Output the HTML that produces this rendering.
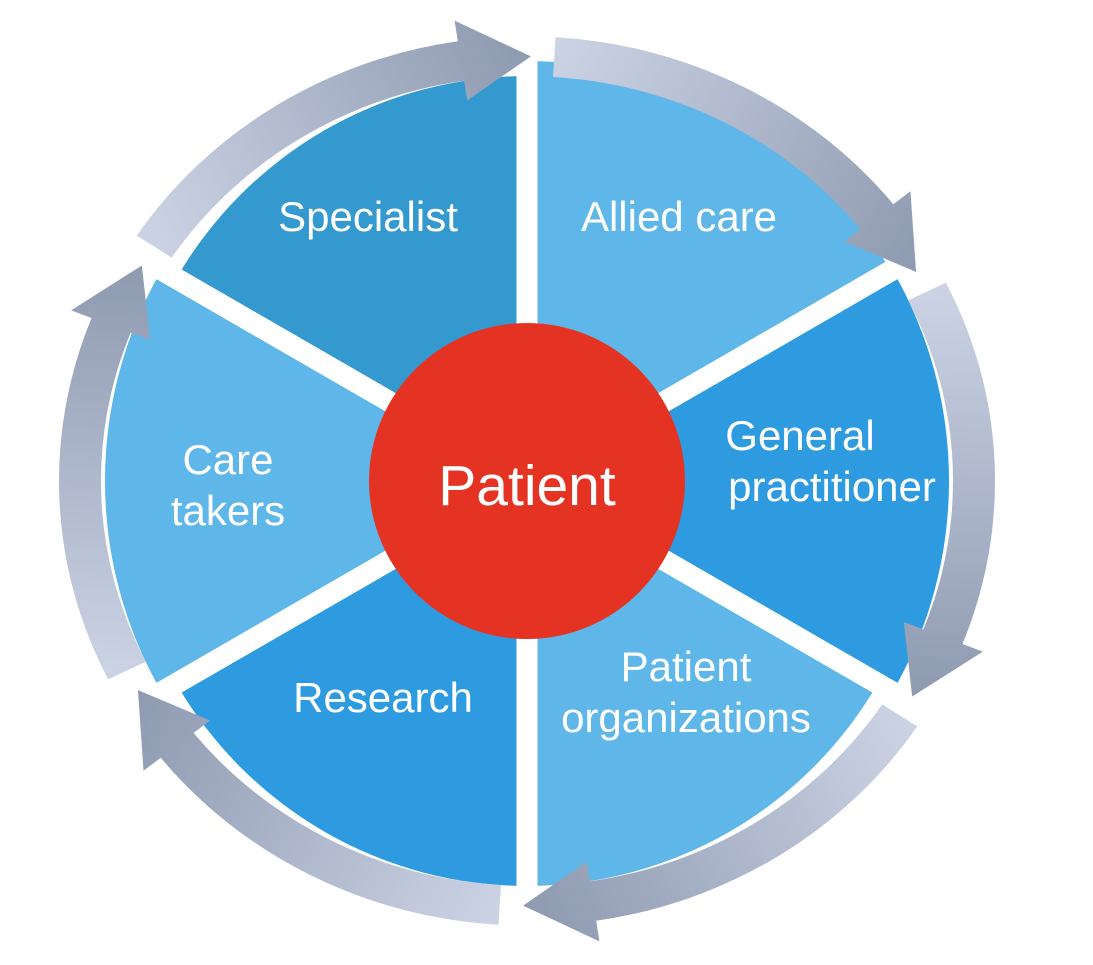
<!DOCTYPE html>
<html><head><meta charset="utf-8"><style>
html,body{margin:0;padding:0;background:#fff;}
svg{display:block}
text{font-family:"Liberation Sans",sans-serif;fill:#fff;}
</style></head><body>
<svg id="s" width="1093" height="965" viewBox="0 0 1093 965" xmlns="http://www.w3.org/2000/svg">
<defs id="d"></defs>
<g id="sec"></g>
<g id="arr"></g>
<circle cx="527" cy="481" r="158" fill="#e53323"/>
<text x="527" y="490" font-size="57" text-anchor="middle" dominant-baseline="middle">Patient</text>
<g font-size="42" text-anchor="middle">
<text x="368" y="231">Specialist</text>
<text x="679" y="231">Allied care</text>
<text x="800" y="450">General</text>
<text x="832" y="501">practitioner</text>
<text x="686" y="681">Patient</text>
<text x="686" y="732">organizations</text>
<text x="383" y="712">Research</text>
<text x="228" y="474">Care</text>
<text x="228" y="525">takers</text>
</g>
</svg>
<script>
var cx=527,cy=481,NS="http://www.w3.org/2000/svg",K=0.95;
function P(r,a){a=a*Math.PI/180;return [cx+r*Math.cos(a),cy+r*Math.sin(a)];}
function Q(r,a){a=a*Math.PI/180;return [cx+r*Math.cos(a),cy+K*r*Math.sin(a)];}
function el(t,at,p){var e=document.createElementNS(NS,t);for(var k in at)e.setAttribute(k,at[k]);p.appendChild(e);return e;}
var sec=document.getElementById('sec'),arr=document.getElementById('arr'),defs=document.getElementById('d');
var cols=["#3399cf","#5fb6e8","#2e9be0","#5fb6e8","#2e9be0","#5fb6e8"];
var rs=[405,420,422,405,405,422];
for(var i=0;i<6;i++){
 var a0=-150+60*i,a1=a0+60,r=rs[i];
 var p0=P(r,a0),p1=P(r,a1);
 el('path',{d:'M'+cx+','+cy+'L'+p0+'A'+r+','+r+' 0 0 1 '+p1+'Z',fill:cols[i]},sec);
}
for(var i=0;i<6;i++){
 var a=-90+60*i,p=P(500,a);
 el('line',{x1:cx,y1:cy,x2:p[0],y2:p[1],stroke:'#fff','stroke-width':21},sec);
}
var ri=426,ro=468,hi=405,ho=490;
for(var i=0;i<6;i++){
 var s=-150+60*i+3.5,e=s+57,hb=e-9;
 var A=Q(ro,s),B=Q(ro,hb),C=Q(ho,hb),T=Q((ri+ro)/2,e),D=Q(hi,hb),E=Q(ri,hb),F=Q(ri,s);
 var S=Q(447,s);
 var g=el('linearGradient',{id:'g'+i,gradientUnits:'userSpaceOnUse',x1:S[0],y1:S[1],x2:T[0],y2:T[1]},defs);
 el('stop',{offset:'0','stop-color':'#cbd2e4'},g);
 el('stop',{offset:'1','stop-color':'#8e9ab0'},g);
 var d='M'+A+'A'+ro+','+(ro*K)+' 0 0 1 '+B+'L'+C+'L'+T+'L'+D+'L'+E+'A'+ri+','+(ri*K)+' 0 0 0 '+F+'Z';
 el('path',{d:d,fill:'url(#g'+i+')'},arr);
}
</script>
</body></html>
